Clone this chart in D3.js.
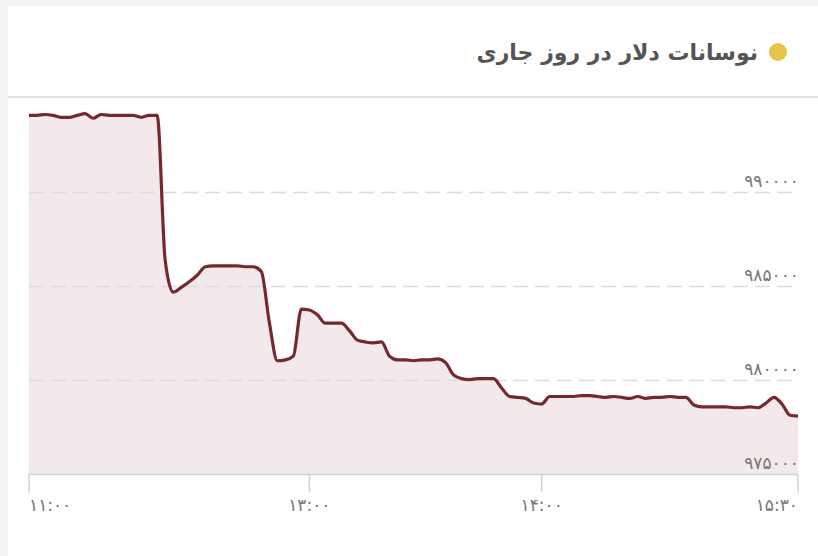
<!DOCTYPE html>
<html>
<head>
<meta charset="utf-8">
<script src="https://cdn.jsdelivr.net/npm/d3@7"></script>
<style>
  html, body { margin: 0; padding: 0; background: #f4f4f4; }
  svg { display: block; }
  .title { font-family: "DejaVu Sans", sans-serif; font-size: 22px; font-weight: bold; fill: #555; }
  .tick-label { font-family: "DejaVu Sans", sans-serif; font-size: 17px; fill: #777; }
</style>
</head>
<body>
<svg width="818" height="556"></svg>
<script>
// dollar price through the day, one reading per step
const prices = [
  994100, 994100, 994150, 994100, 994000, 994000, 994100, 994200, 993950, 994150,
  994100, 994100, 994100, 994100, 994000, 994100, 994100, 986400, 984700, 984950,
  985250, 985600, 986050, 986100, 986100, 986100, 986100, 986050, 986050, 985800,
  983100, 981050, 981100, 981300, 983800, 983750, 983500, 983050, 983050, 983050,
  982650, 982150, 982050, 982000, 982050, 981300, 981100, 981100, 981050, 981100,
  981100, 981150, 980950, 980300, 980100, 980050, 980100, 980100, 980100, 979600,
  979150, 979100, 979050, 978800, 978750, 979150, 979150, 979150, 979150, 979200,
  979200, 979150, 979100, 979150, 979100, 979050, 979150, 979050, 979100, 979100,
  979150, 979100, 979100, 978700, 978600, 978600, 978600, 978600, 978550, 978550,
  978600, 978550, 978800, 979100, 978750, 978150, 978100
];

// time labels and the reading index they sit on
const timeLabels = ["۱۱:۰۰", "۱۳:۰۰", "۱۴:۰۰", "۱۵:۳۰"];
const timeIndex = [0, 35, 64, 96];

const yTicks = [975000, 980000, 985000, 990000];
const yDomain = [975000, 995000];
const title = "نوسانات دلار در روز جاری";

const toPersian = s => String(s).replace(/\d/g, d => "۰۱۲۳۴۵۶۷۸۹"[d]);

const svg = d3.select("svg");

// card
svg.append("rect")
  .attr("x", 8).attr("y", 6)
  .attr("width", 810).attr("height", 550)
  .attr("fill", "#fff");

svg.append("line")
  .attr("x1", 8).attr("x2", 818)
  .attr("y1", 97).attr("y2", 97)
  .attr("stroke", "#e4e4e4")
  .attr("stroke-width", 2);

svg.append("circle")
  .attr("cx", 778).attr("cy", 52).attr("r", 9)
  .attr("fill", "#e5c449");

svg.append("text")
  .attr("class", "title")
  .attr("x", 758).attr("y", 52)
  .attr("dy", "0.35em")
  .attr("text-anchor", "end")
  .text(title);

const plot = { left: 29, right: 798, top: 98.5, bottom: 474.5 };

const x = d3.scaleLinear()
  .domain([0, prices.length - 1])
  .range([plot.left, plot.right]);

const y = d3.scaleLinear()
  .domain(yDomain)
  .range([plot.bottom, plot.top]);

const area = d3.area()
  .x((d, i) => x(i))
  .y0(y(yDomain[0]))
  .y1(d => y(d))
  .curve(d3.curveMonotoneX);

const line = d3.line()
  .x((d, i) => x(i))
  .y(d => y(d))
  .curve(d3.curveMonotoneX);

svg.append("path")
  .datum(prices)
  .attr("fill", "#f3e9ea")
  .attr("d", area);

// grid, drawn over the fill
svg.append("g")
  .selectAll("line")
  .data(yTicks.slice(1))
  .enter()
  .append("line")
  .attr("x1", plot.left).attr("x2", plot.right)
  .attr("y1", d => y(d)).attr("y2", d => y(d))
  .attr("stroke", "#dcdcdc")
  .attr("stroke-width", 1.5)
  .attr("stroke-dasharray", "15,7");

svg.append("path")
  .datum(prices)
  .attr("fill", "none")
  .attr("stroke", "#76282c")
  .attr("stroke-width", 3.2)
  .attr("stroke-linejoin", "round")
  .attr("d", line);

// y labels, above each grid line on the right
svg.append("g")
  .selectAll("text")
  .data(yTicks)
  .enter()
  .append("text")
  .attr("class", "tick-label")
  .attr("x", 799)
  .attr("y", d => y(d) - 6)
  .attr("text-anchor", "end")
  .text(d => toPersian(d));

// x axis
const xAxis = svg.append("g");

xAxis.append("line")
  .attr("x1", plot.left).attr("x2", plot.right)
  .attr("y1", plot.bottom).attr("y2", plot.bottom)
  .attr("stroke", "#ccd3dc")
  .attr("stroke-width", 1.5);

xAxis.selectAll(".tick")
  .data(timeIndex)
  .enter()
  .append("line")
  .attr("class", "tick")
  .attr("x1", d => x(d)).attr("x2", d => x(d))
  .attr("y1", plot.bottom).attr("y2", plot.bottom + 18)
  .attr("stroke", "#ccd3dc")
  .attr("stroke-width", 1.5);

xAxis.selectAll("text")
  .data(timeIndex)
  .enter()
  .append("text")
  .attr("class", "tick-label")
  .attr("x", d => x(d))
  .attr("y", plot.bottom + 31)
  .attr("dy", "0.35em")
  .attr("text-anchor", (d, i) => i === 0 ? "start" : i === timeIndex.length - 1 ? "end" : "middle")
  .attr("direction", "ltr")
  .text((d, i) => timeLabels[i]);
</script>
</body>
</html>
